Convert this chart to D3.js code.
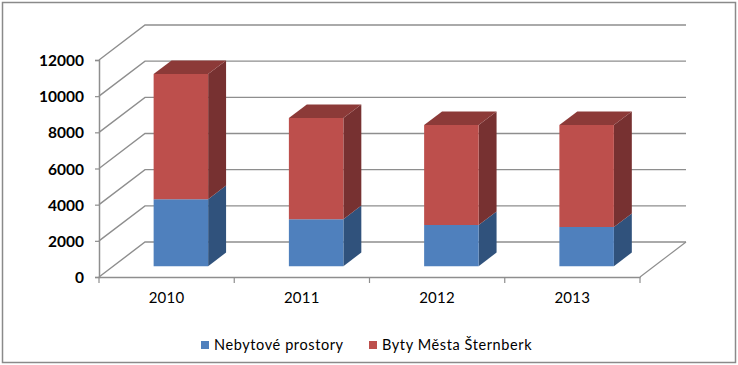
<!DOCTYPE html>
<html>
<head>
<meta charset="utf-8">
<script src="https://cdn.jsdelivr.net/npm/d3@7"></script>
<style>
  html, body { margin: 0; padding: 0; background: #fff; }
  svg { display: block; }
  .tick text { fill: #000; }
</style>
</head>
<body>
<script>
const years = ['2010', '2011', '2012', '2013'];
const nebytove = [3700, 2600, 2270, 2160];
const byty = [6920, 5590, 5530, 5640];
const yTicks = [0, 2000, 4000, 6000, 8000, 10000, 12000];
const seriesNames = ['Nebytové prostory', 'Byty Města Šternberk'];

const width = 738, height = 365;
const plot = {left: 99, right: 640, top: 60, bottom: 277};
const wall = {dx: 46, dy: -35};
const barDepth = {front: 0.31, back: 0.7};
const grey = '#8e8e8e';

const colors = [
  {front: '#4f80bd', side: '#30527c', top: '#3c6496'},
  {front: '#bd4f4c', side: '#773131', top: '#8c3a38'}
];

const svg = d3.select('body').append('svg')
  .attr('width', width)
  .attr('height', height);

svg.append('rect')
  .attr('x', 2.5).attr('y', 2.5)
  .attr('width', 733).attr('height', 360)
  .attr('fill', '#fff')
  .attr('stroke', '#8a8a8a')
  .attr('stroke-width', 1.5);

const xScale = d3.scaleBand()
  .domain(years)
  .range([plot.left, plot.right]);

const yScale = d3.scaleLinear()
  .domain([0, 12000])
  .range([plot.bottom, plot.top]);

// back wall lines and the diagonals on the left side
yTicks.forEach((t) => {
  const y = yScale(t);
  svg.append('path')
    .attr('d', d3.line()([
      [plot.left, y],
      [plot.left + wall.dx, y + wall.dy],
      [plot.right + wall.dx, y + wall.dy]
    ]))
    .attr('fill', 'none')
    .attr('stroke', grey)
    .attr('stroke-width', 1.4);
});

// right edge of the floor
svg.append('line')
  .attr('x1', plot.right).attr('y1', plot.bottom)
  .attr('x2', plot.right + wall.dx).attr('y2', plot.bottom + wall.dy)
  .attr('stroke', grey)
  .attr('stroke-width', 1.2);

const yAxis = d3.axisLeft(yScale)
  .tickValues(yTicks)
  .tickFormat(d3.format('d'))
  .tickSize(4)
  .tickPadding(11);

const yG = svg.append('g')
  .attr('transform', 'translate(' + plot.left + ',0)')
  .call(yAxis);

yG.selectAll('text')
  .attr('dy', '0.36em')
  .style('font-family', 'Lato')
  .style('font-weight', 'bold')
  .style('font-size', '15.5px');

const xAxis = d3.axisBottom(xScale)
  .tickSize(0)
  .tickPadding(15);

const xG = svg.append('g')
  .attr('transform', 'translate(0,' + plot.bottom + ')')
  .call(xAxis);

xG.selectAll('text')
  .style('font-family', 'Lato')
  .style('font-size', '15px')
  .style('letter-spacing', '0.3px');

// category ticks sit on the band edges
xG.selectAll('.edge')
  .data(years.concat('end'))
  .enter().append('line')
  .attr('class', 'edge')
  .attr('x1', (d, i) => plot.left + i * xScale.bandwidth())
  .attr('x2', (d, i) => plot.left + i * xScale.bandwidth())
  .attr('y1', 0)
  .attr('y2', 6)
  .attr('stroke', grey)
  .attr('stroke-width', 1.2);

[yG, xG].forEach((g) => {
  g.selectAll('.domain').attr('stroke', grey).attr('stroke-width', 1.5);
  g.selectAll('.tick line').attr('stroke', grey).attr('stroke-width', 1.2);
});

// 3d position: value on the y scale, pushed back along the floor diagonal
const px = (x, depth) => x + wall.dx * depth;
const py = (v, depth) => yScale(v) + wall.dy * depth;

const barWidth = xScale.bandwidth() * 0.403;
const stack = d3.stack()
  .keys([0, 1])
  .value((d, k) => d[k])(years.map((y, i) => [nebytove[i], byty[i]]));

const face = (pts, fill) => {
  svg.append('polygon')
    .attr('points', pts.map((p) => p.join(',')).join(' '))
    .attr('fill', fill);
};

years.forEach((year, i) => {
  const x0 = xScale(year) + (xScale.bandwidth() - barWidth) / 2;
  const x1 = x0 + barWidth;
  const f = barDepth.front, b = barDepth.back;
  stack.forEach((layer, k) => {
    const [v0, v1] = layer[i];
    const c = colors[k];
    // side
    face([[px(x1, f), py(v0, f)], [px(x1, b), py(v0, b)], [px(x1, b), py(v1, b)], [px(x1, f), py(v1, f)]], c.side);
    // front
    face([[px(x0, f), py(v0, f)], [px(x1, f), py(v0, f)], [px(x1, f), py(v1, f)], [px(x0, f), py(v1, f)]], c.front);
    // top, only visible on the last layer
    if (k === stack.length - 1) {
      face([[px(x0, f), py(v1, f)], [px(x1, f), py(v1, f)], [px(x1, b), py(v1, b)], [px(x0, b), py(v1, b)]], c.top);
    }
  });
});

// legend
const legendY = 345;
const legendX = [201, 369];
seriesNames.forEach((name, i) => {
  svg.append('rect')
    .attr('x', legendX[i]).attr('y', legendY - 4)
    .attr('width', 8).attr('height', 8)
    .attr('fill', colors[i].front);
  svg.append('text')
    .attr('x', legendX[i] + 13)
    .attr('y', legendY)
    .attr('dy', '0.35em')
    .style('font-family', 'Lato')
    .style('font-size', '14.5px')
    .style('letter-spacing', '0.6px')
    .style('fill', '#000')
    .text(name);
});
</script>
</body>
</html>
